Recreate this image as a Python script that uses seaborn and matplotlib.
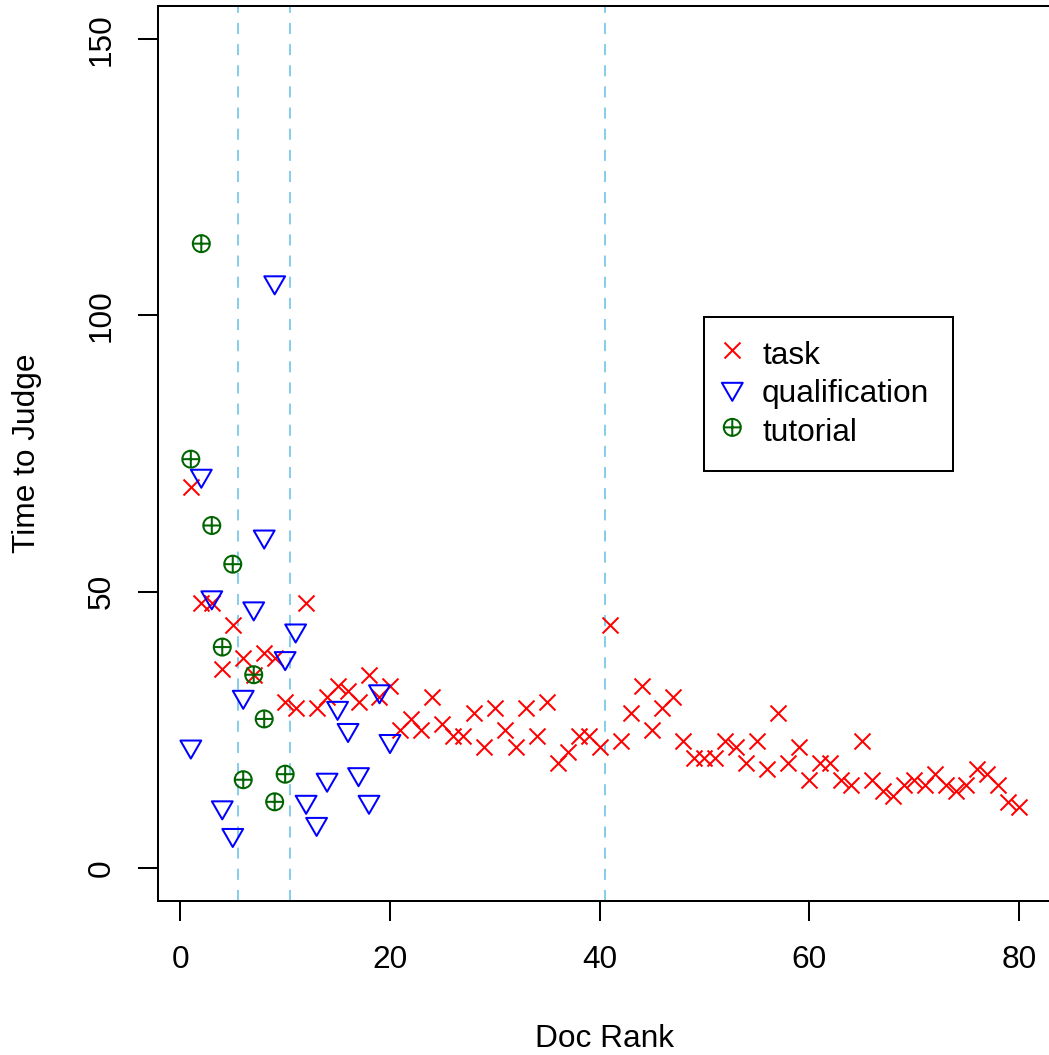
import numpy as np
import pandas as pd
import matplotlib
matplotlib.use("Agg")
import matplotlib.pyplot as plt
from matplotlib.path import Path
import seaborn as sns

# Time spent judging each document, by position in the judging sequence
task_rank = list(range(1, 81))
task_time = [69, 48, 48, 36, 44, 38, 35, 39, 38, 30,
             29, 48, 29, 31, 33, 32, 30, 35, 31, 33,
             25, 27, 25, 31, 26, 24, 24, 28, 22, 29,
             25, 22, 29, 24, 30, 19, 21, 24, 24, 22,
             44, 23, 28, 33, 25, 29, 31, 23, 20, 20,
             20, 23, 22, 19, 23, 18, 28, 19, 22, 16,
             19, 19, 16, 15, 23, 16, 14, 13, 15, 16,
             15, 17, 15, 14, 15, 18, 17, 15, 12, 11]

qual_rank = list(range(1, 21))
qual_time = [22, 71, 49, 11, 6, 31, 47, 60, 106, 38,
             43, 12, 8, 16, 29, 25, 17, 12, 32, 23]

tut_rank = list(range(1, 11))
tut_time = [74, 113, 62, 40, 55, 16, 35, 27, 12, 17]

# Boundaries between the phases of a session
phase_breaks = [5.5, 10.5, 40.5]

x_ticks = [0, 20, 40, 60, 80]
y_ticks = [0, 50, 100, 150]

sns.set_style("white")
plt.rcParams["font.family"] = ["Liberation Sans", "DejaVu Sans"]
plt.rcParams["text.color"] = "black"
FS = 22.8

task_df = pd.DataFrame({"rank": task_rank, "time": task_time})
qual_df = pd.DataFrame({"rank": qual_rank, "time": qual_time})
tut_df = pd.DataFrame({"rank": tut_rank, "time": tut_time})

# Marker shapes: downward triangle centred on its centroid, circle with a cross
tri_down = Path([(-1.347, 0.778), (1.347, 0.778), (0.0, -1.555), (-1.347, 0.778)],
                [Path.MOVETO, Path.LINETO, Path.LINETO, Path.CLOSEPOLY])
circ_plus = Path.make_compound_path(
    Path.unit_circle(),
    Path([(-1, 0), (1, 0)], [Path.MOVETO, Path.LINETO]),
    Path([(0, -1), (0, 1)], [Path.MOVETO, Path.LINETO]),
)

W, H = 1049, 1055
fig = plt.figure(figsize=(W / 100, H / 100), dpi=100)
left, right, top, bottom = 157.7, 1052.0, 6.0, 901.3
ax = fig.add_axes([left / W, 1 - bottom / H, (right - left) / W, (bottom - top) / H])

for xb in phase_breaks:
    ax.axvline(xb, color="#87CEEB", lw=1.45, dashes=(5.5, 5.0), zorder=1)

sns.scatterplot(data=task_df, x="rank", y="time", marker="x", color="#FF0000",
                s=132, linewidth=1.45, label="task", ax=ax, zorder=3)
sns.scatterplot(data=qual_df, x="rank", y="time", marker=tri_down,
                facecolor="none", edgecolor="#0000FF", s=300, linewidth=1.45,
                label="qualification", ax=ax, zorder=3)
sns.scatterplot(data=tut_df, x="rank", y="time", marker=circ_plus,
                facecolor="none", edgecolor="#006400", s=150, linewidth=1.45,
                label="tutorial", ax=ax, zorder=3)

ax.set_xlim(-2.16, 83.16)
ax.set_ylim(-6.0, 156.0)
ax.set_xticks(x_ticks)
ax.set_yticks(y_ticks)
ax.set_xticklabels([str(v) for v in x_ticks])
ax.set_yticklabels([str(v) for v in y_ticks])
ax.tick_params(axis="both", which="major", direction="out", length=14.4,
               width=1.45, labelsize=FS, color="black", labelcolor="black",
               bottom=True, left=True, top=False, right=False)
ax.tick_params(axis="x", pad=17)
ax.tick_params(axis="y", pad=15, labelrotation=90)
for lab in ax.get_yticklabels():
    lab.set_va("center")
for sp in ax.spines.values():
    sp.set_visible(True)
    sp.set_linewidth(1.45)
    sp.set_color("black")

ax.set_xlabel("Doc Rank", fontsize=FS, color="black")
ax.set_ylabel("Time to Judge", fontsize=FS, color="black")
ax.xaxis.set_label_coords(0.5, -(1046.7 - bottom) / (bottom - top))
ax.xaxis.label.set_va("baseline")
ax.yaxis.set_label_coords(-(left - 27) / (right - left), 0.5)
ax.yaxis.label.set_va("center")

leg = ax.legend(loc="upper left", bbox_to_anchor=(50.0, 99.7),
                bbox_transform=ax.transData, borderaxespad=0,
                fontsize=FS, frameon=True, fancybox=False, shadow=False,
                edgecolor="black", framealpha=1, borderpad=0.74,
                handlelength=0.28, handletextpad=0.8, labelspacing=0.27,
                scatterpoints=1, scatteryoffsets=[0.6])
leg.get_frame().set_linewidth(1.45)
for t in leg.get_texts():
    t.set_color("black")

fig.savefig("out.png", dpi=100)
